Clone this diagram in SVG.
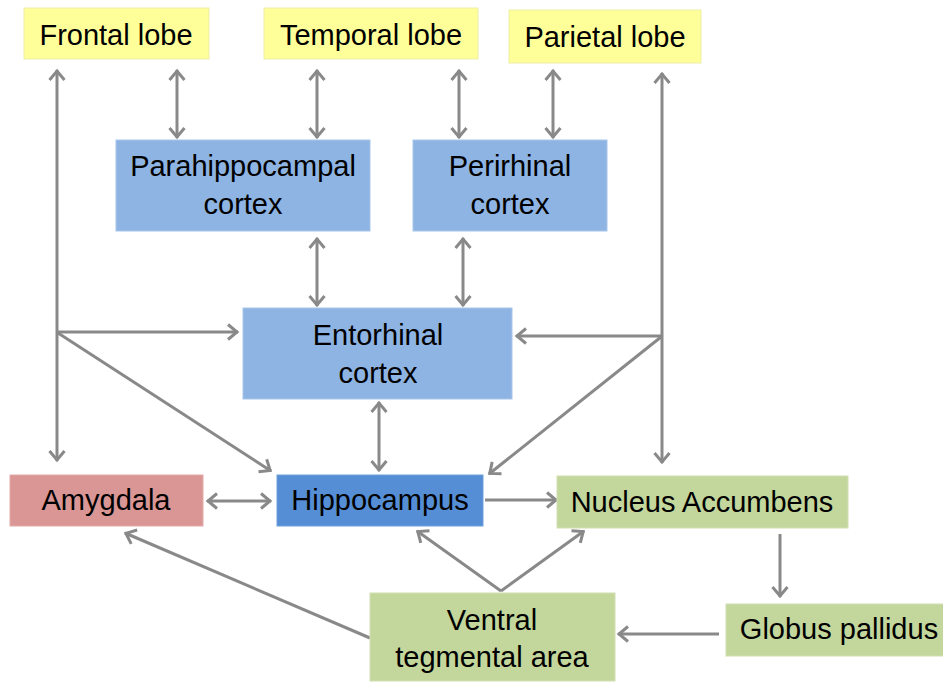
<svg xmlns="http://www.w3.org/2000/svg" width="943" height="682" viewBox="0 0 943 682">
<defs>
<marker id="ah" markerUnits="userSpaceOnUse" markerWidth="24" markerHeight="24" viewBox="-14 -12 18 24" refX="1" refY="0" orient="auto-start-reverse" overflow="visible">
<path d="M-9,-7.5 L0,0 L-9,7.5" fill="none" stroke="#898989" stroke-width="3" stroke-linejoin="miter"/>
</marker>
<style>
.lbl{font-family:"Liberation Sans",Arial,sans-serif;font-size:29px;fill:#000;text-anchor:middle}
.yel{fill:#FFFF99;stroke:#EDEDA8;stroke-width:1}
.lb{fill:#8EB4E3;stroke:#A8C5EA;stroke-width:1}
.db{fill:#558ED5;stroke:#6F9FDB;stroke-width:1}
.red{fill:#D99694;stroke:#E3ACAA;stroke-width:1}
.grn{fill:#C3D69B;stroke:#D2E0B4;stroke-width:1}
.c{fill:none;stroke:#898989;stroke-width:3}
.e{marker-end:url(#ah)}
.b{marker-start:url(#ah);marker-end:url(#ah)}
</style>
</defs>
<rect width="943" height="682" fill="#fff"/>
<g id="connectors">
<path class="c e" d="M57,332 L57,70"/>
<path class="c e" d="M57,332 L57,461"/>
<path class="c e" d="M57,332 L238,332"/>
<path class="c e" d="M58,333 L271,471"/>
<path class="c e" d="M662,336 L662,73"/>
<path class="c e" d="M662,336 L662,463"/>
<path class="c e" d="M662,336 L516,336"/>
<path class="c e" d="M661,337 L489,474"/>
<path class="c b" d="M177,70 L177,138"/>
<path class="c b" d="M317,70 L317,138"/>
<path class="c b" d="M459,70 L459,138"/>
<path class="c b" d="M553,70 L553,138"/>
<path class="c b" d="M317,238 L317,306"/>
<path class="c b" d="M463,238 L463,306"/>
<path class="c b" d="M379,402 L379,471"/>
<path class="c b" d="M207,501 L271,501"/>
<path class="c e" d="M485,500 L557,500"/>
<path class="c e" d="M780,534 L780,597"/>
<path class="c e" d="M719,634 L618,634"/>
<path class="c e" d="M370,638 L125,533"/>
<path class="c e" d="M501,591 L417,531"/>
<path class="c e" d="M501,591 L584,531"/>
</g>
<g id="frontal-lobe"><rect class="yel" x="24" y="8" width="185" height="51"/><text class="lbl" x="116" y="45">Frontal lobe</text></g>
<g id="temporal-lobe"><rect class="yel" x="264" y="8" width="214" height="51"/><text class="lbl" x="371" y="45">Temporal lobe</text></g>
<g id="parietal-lobe"><rect class="yel" x="509" y="10" width="192" height="53"/><text class="lbl" x="605" y="47">Parietal lobe</text></g>
<g id="parahippocampal-cortex"><rect class="lb" x="116" y="140" width="254" height="91"/><text class="lbl" x="243" y="176">Parahippocampal</text><text class="lbl" x="243" y="214">cortex</text></g>
<g id="perirhinal-cortex"><rect class="lb" x="413" y="140" width="194" height="91"/><text class="lbl" x="510" y="176">Perirhinal</text><text class="lbl" x="510" y="214">cortex</text></g>
<g id="entorhinal-cortex"><rect class="lb" x="243" y="308" width="269" height="91"/><text class="lbl" x="378" y="345">Entorhinal</text><text class="lbl" x="378" y="383">cortex</text></g>
<g id="amygdala"><rect class="red" x="10" y="475" width="193" height="51"/><text class="lbl" x="106" y="510">Amygdala</text></g>
<g id="hippocampus"><rect class="db" x="277" y="475" width="206" height="51"/><text class="lbl" x="380" y="510">Hippocampus</text></g>
<g id="nucleus-accumbens"><rect class="grn" x="557" y="476" width="291" height="52"/><text class="lbl" x="702" y="512">Nucleus Accumbens</text></g>
<g id="ventral-tegmental-area"><rect class="grn" x="370" y="593" width="245" height="88"/><text class="lbl" x="492" y="630">Ventral</text><text class="lbl" x="492" y="667">tegmental area</text></g>
<g id="globus-pallidus"><rect class="grn" x="726" y="604" width="218" height="52"/><text class="lbl" x="839" y="639">Globus pallidus</text></g>
</svg>
